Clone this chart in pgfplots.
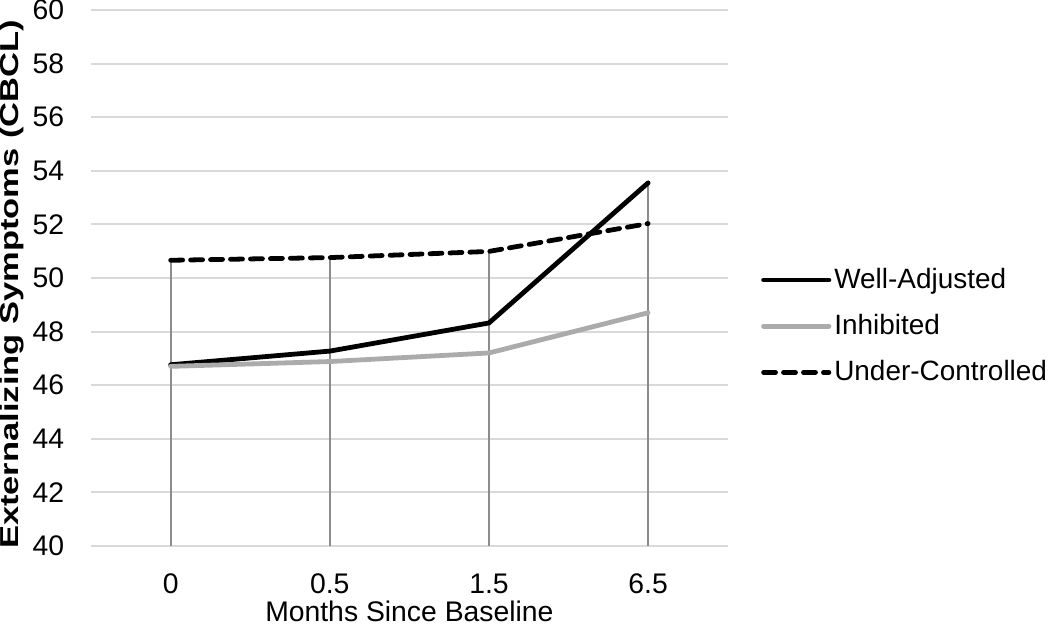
\documentclass[border=0pt]{standalone}
\usepackage{fontspec}
\setmainfont{Liberation Sans}
\usepackage{graphicx}
\usepackage{pgfplots}
\pgfplotsset{compat=1.18}
\definecolor{gridgray}{HTML}{D9D9D9}
\definecolor{dropgray}{HTML}{8C8C8C}
\definecolor{inhgray}{HTML}{ABABAB}
\begin{document}
\begin{tikzpicture}
\begin{axis}[
    scale only axis,
    width=319pt, height=268.5pt,
    xmin=-0.5, xmax=3.5,
    ymin=40, ymax=60,
    xtick={0,1,2,3},
    xticklabels={0,0.5,1.5,6.5},
    ytick={40,42,...,60},
    ymajorgrids,
    grid style={gridgray, line width=1pt},
    axis line style={draw=none},
    major tick length=0pt,
    font=\fontsize{14.2}{16}\selectfont,
    /pgf/number format/assume math mode=true,
    yticklabel style={inner sep=0pt, xshift=-13.3pt},
    xticklabel style={anchor=center, yshift=-19pt},
    xlabel={Months Since Baseline},
    xlabel style={at={(axis description cs:0.5,-0.122)}, anchor=center, inner sep=4.5pt},
    ylabel={\scalebox{1.33}[1]{\fontsize{13}{15}\selectfont\bfseries Externalizing Symptoms (CBCL)}},
    ylabel style={at={(axis description cs:-0.124,0.488)}, anchor=center, inner sep=0pt},
    clip=false,
    legend style={at={(axis description cs:1.052,0.41)}, anchor=west,
        draw=none, fill=none, row sep=8.5pt, inner sep=0pt,
        nodes={inner sep=1.5pt},
        font=\fontsize{14}{16}\selectfont},
    legend cell align=left,
    legend image code/.code={\draw[#1] (0cm,0cm) -- (1.15cm,0cm);},
]
% drop lines from 40 up to the highest series
\addplot[ycomb, dropgray, line width=1pt, mark=none, forget plot]
    coordinates {(0,50.66) (1,50.76) (2,50.99) (3,53.55)};
\addplot[black, line width=2.4pt, line join=round, line cap=round]
    coordinates {(0,46.76) (1,47.27) (2,48.32) (3,53.55)};
\addplot[inhgray, line width=2.4pt, line join=round, line cap=round]
    coordinates {(0,46.70) (1,46.88) (2,47.20) (3,48.70)};
\addplot[black, line width=2.4pt, line cap=round, dash pattern=on 6pt off 4pt]
    coordinates {(0,50.66) (1,50.76) (2,50.99) (3,52.03)};
\legend{Well-Adjusted, Inhibited, Under-Controlled}
\end{axis}
\end{tikzpicture}
\end{document}
